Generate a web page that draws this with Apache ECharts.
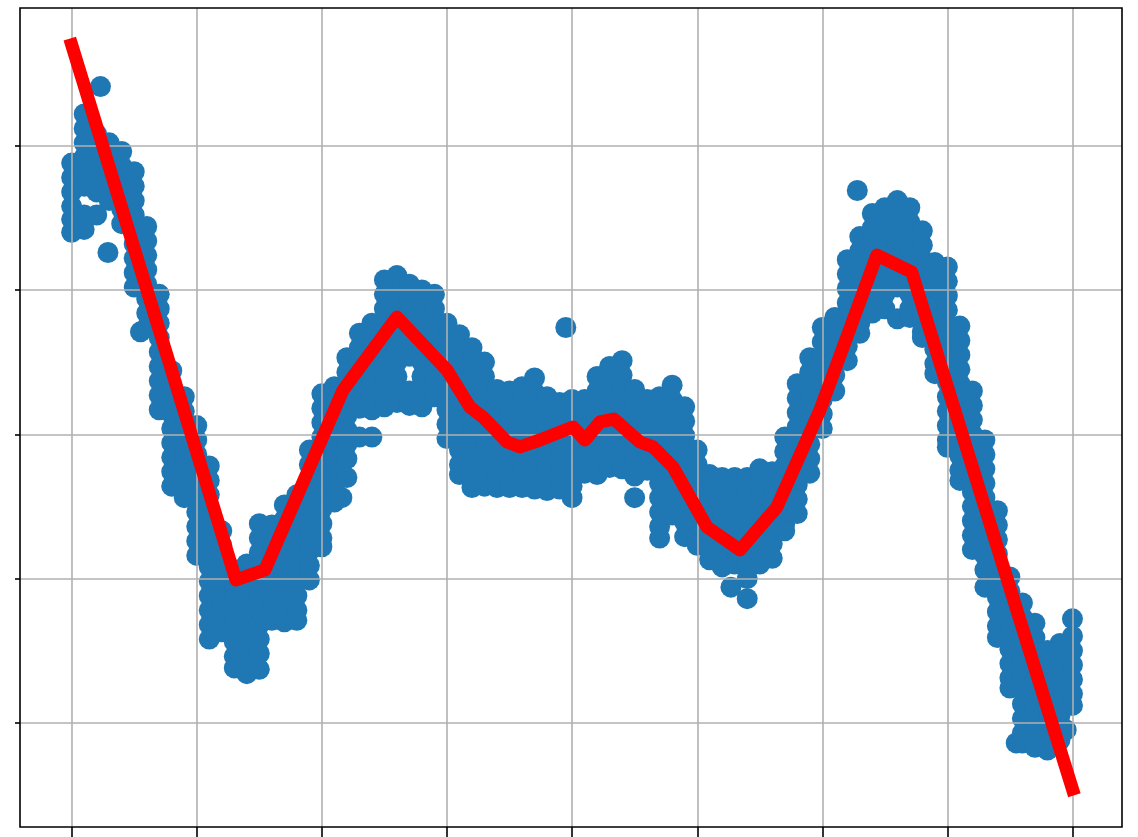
<!DOCTYPE html>
<html>
<head>
<meta charset="utf-8">
<script src="https://cdn.jsdelivr.net/npm/echarts@6/dist/echarts.min.js"></script>
<style>
html,body{margin:0;padding:0;background:#fff;}
#c{width:1138px;height:837px;}
</style>
</head>
<body>
<div id="c"></div>
<script>
// Tick positions (labels are not shown in the reference)
const xTicks = [0, 1, 2, 3, 4, 5, 6, 7, 8];
const yTicks = [-2, -1, 0, 1, 2];

// Red fitted line
const lineX = [0, 1.313, 1.545, 2.169, 2.600, 3.000, 3.184, 3.288, 3.480, 3.584, 3.743, 4.007, 4.103, 4.223, 4.335, 4.543, 4.647, 4.807, 5.078, 5.342, 5.638, 5.982, 6.437, 6.716, 8.0];
const lineY = [2.70, -1.010, -0.941, 0.306, 0.812, 0.445, 0.188, 0.119, -0.054, -0.088, -0.040, 0.050, -0.040, 0.085, 0.105, -0.054, -0.088, -0.227, -0.643, -0.802, -0.504, 0.168, 1.242, 1.124, -2.46];

// Scatter points, grouped by x: [x, y1, y2, ...]
const scatterLeft = [
  [0.0, 1.88, 1.78, 1.68, 1.58, 1.49, 1.40],
  [0.1, 2.22, 2.12, 2.02, 1.92, 1.82, 1.72, 1.52, 1.42],
  [0.2, 2.08, 1.98, 1.88, 1.78, 1.68, 1.52],
  [0.23, 2.41],
  [0.29, 1.26],
  [0.3, 2.02, 1.92, 1.82, 1.72, 1.62],
  [0.4, 1.96, 1.86, 1.76, 1.66, 1.56, 1.46],
  [0.5, 1.82, 1.72, 1.62, 1.52, 1.42, 1.32, 1.22, 1.12, 1.02],
  [0.55, 0.71],
  [0.6, 1.44, 1.34, 1.24, 1.14, 1.04, 0.94, 0.84, 0.74],
  [0.7, 0.97, 0.87, 0.77, 0.67, 0.57, 0.47, 0.37, 0.27, 0.17],
  [0.8, 0.44, 0.34, 0.24, 0.14, 0.04, -0.06, -0.16, -0.26, -0.36],
  [0.9, 0.26, 0.16, 0.06, -0.04, -0.14, -0.24, -0.34, -0.44],
  [1.0, 0.06, -0.04, -0.14, -0.24, -0.34, -0.44, -0.54, -0.64, -0.74, -0.84],
  [1.1, -0.22, -0.32, -0.42, -0.52, -0.62, -0.72, -0.82, -0.92, -1.02, -1.12, -1.22, -1.32, -1.42],
  [1.2, -0.67, -0.77, -0.87, -0.97, -1.07, -1.17, -1.27, -1.37],
  [1.3, -0.94, -1.04, -1.14, -1.24, -1.34, -1.44, -1.54, -1.62],
  [1.4, -0.90, -1.00, -1.10, -1.20, -1.30, -1.40, -1.50, -1.60, -1.66],
  [1.5, -0.62, -0.72, -0.82, -0.92, -1.02, -1.12, -1.22, -1.32, -1.42, -1.52, -1.63],
  [1.6, -0.63, -0.73, -0.83, -0.93, -1.03, -1.13, -1.23, -1.29],
  [1.7, -0.49, -0.59, -0.69, -0.79, -0.89, -0.99, -1.09, -1.19, -1.30],
  [1.8, -0.42, -0.52, -0.62, -0.72, -0.82, -0.92, -1.02, -1.12, -1.22, -1.29],
  [1.9, -0.11, -0.21, -0.31, -0.41, -0.51, -0.61, -0.71, -0.81, -0.91, -1.01]
];
const scatterMiddle = [
  [2.0, 0.28, 0.18, 0.08, -0.02, -0.12, -0.22, -0.32, -0.42, -0.52, -0.62, -0.72, -0.78],
  [2.1, 0.33, 0.23, 0.13, 0.03, -0.07, -0.17, -0.27, -0.37, -0.47],
  [2.16, -0.44],
  [2.2, 0.53, 0.43, 0.33, 0.23, 0.13, 0.03, -0.07, -0.17, -0.30],
  [2.3, 0.70, 0.60, 0.50, 0.40, 0.30, 0.18, -0.02],
  [2.4, 0.77, 0.67, 0.57, 0.47, 0.37, 0.27, 0.17, -0.02],
  [2.5, 1.07, 0.97, 0.87, 0.77, 0.67, 0.57, 0.47, 0.37, 0.27, 0.19],
  [2.6, 1.10, 1.00, 0.90, 0.80, 0.70, 0.60, 0.50, 0.40, 0.30, 0.22],
  [2.7, 1.04, 0.94, 0.84, 0.74, 0.64, 0.54, 0.30, 0.20],
  [2.8, 1.00, 0.90, 0.80, 0.70, 0.60, 0.50, 0.40, 0.30, 0.19],
  [2.9, 0.97, 0.87, 0.77, 0.67, 0.57, 0.47, 0.37, 0.26],
  [3.0, 0.77, 0.67, 0.57, 0.47, 0.37, 0.27, 0.17, 0.07, -0.03],
  [3.1, 0.69, 0.59, 0.49, 0.39, 0.29, 0.19, 0.09, -0.01, -0.11, -0.21, -0.28],
  [3.2, 0.60, 0.50, 0.40, 0.30, 0.20, 0.10, 0.00, -0.10, -0.20, -0.30, -0.37],
  [3.3, 0.50, 0.40, 0.30, 0.20, 0.10, 0.00, -0.10, -0.20, -0.30, -0.36],
  [3.4, 0.31, 0.21, 0.11, 0.01, -0.09, -0.19, -0.29, -0.37],
  [3.5, 0.30, 0.20, 0.10, 0.00, -0.10, -0.20, -0.30, -0.37],
  [3.6, 0.33, 0.23, 0.13, 0.03, -0.07, -0.17, -0.27, -0.37],
  [3.7, 0.39, 0.29, 0.19, 0.09, -0.01, -0.11, -0.21, -0.31, -0.38],
  [3.8, 0.26, 0.16, 0.06, -0.04, -0.14, -0.24, -0.34, -0.39],
  [3.9, 0.22, 0.12, 0.02, -0.08, -0.18, -0.28, -0.38],
  [3.95, 0.74],
  [4.0, 0.24, 0.14, 0.04, -0.06, -0.16, -0.26, -0.36, -0.44],
  [4.1, 0.24, 0.14, 0.04, -0.06, -0.16, -0.27],
  [4.2, 0.40, 0.30, 0.20, 0.10, 0.00, -0.10, -0.20, -0.28],
  [4.3, 0.47, 0.37, 0.27, 0.17, 0.07, -0.03, -0.13, -0.23],
  [4.4, 0.51, 0.41, 0.31, 0.21, 0.11, 0.01, -0.09, -0.19, -0.24],
  [4.5, 0.31, 0.21, 0.11, 0.01, -0.09, -0.19, -0.29, -0.44],
  [4.6, 0.24, 0.14, 0.04, -0.06, -0.16, -0.25],
  [4.7, 0.26, 0.16, 0.06, -0.04, -0.14, -0.24, -0.34, -0.44, -0.54, -0.64, -0.72],
  [4.8, 0.34, 0.24, 0.14, 0.04, -0.06, -0.16, -0.26, -0.36, -0.46, -0.56],
  [4.9, 0.19, 0.09, -0.01, -0.11, -0.21, -0.31, -0.41, -0.51, -0.61, -0.71]
];
const scatterRight = [
  [5.0, -0.11, -0.21, -0.31, -0.41, -0.51, -0.61, -0.71, -0.77],
  [5.1, -0.28, -0.38, -0.48, -0.58, -0.68, -0.78, -0.87],
  [5.2, -0.30, -0.40, -0.50, -0.60, -0.70, -0.80, -0.92],
  [5.27, -1.06],
  [5.3, -0.30, -0.40, -0.50, -0.60, -0.70, -0.80, -0.90],
  [5.4, -0.30, -0.40, -0.50, -0.60, -0.70, -0.80, -0.90, -1.00, -1.14],
  [5.5, -0.24, -0.34, -0.44, -0.54, -0.64, -0.74, -0.84, -0.90],
  [5.6, -0.26, -0.36, -0.46, -0.56, -0.66, -0.76, -0.86],
  [5.7, -0.02, -0.12, -0.22, -0.32, -0.42, -0.52, -0.62, -0.67],
  [5.8, 0.35, 0.25, 0.15, 0.05, -0.05, -0.15, -0.25, -0.35, -0.45, -0.55],
  [5.9, 0.53, 0.43, 0.33, 0.23, 0.13, 0.03, -0.07, -0.17, -0.27],
  [6.0, 0.74, 0.64, 0.54, 0.44, 0.34, 0.24, 0.14, 0.04],
  [6.1, 0.81, 0.71, 0.61, 0.51, 0.41, 0.30],
  [6.2, 1.21, 1.11, 1.01, 0.91, 0.81, 0.71, 0.61, 0.51],
  [6.28, 1.69],
  [6.3, 1.37, 1.27, 1.17, 1.07, 0.97, 0.87, 0.77, 0.70],
  [6.4, 1.53, 1.43, 1.33, 1.23, 1.13, 1.03, 0.93, 0.84],
  [6.5, 1.57, 1.47, 1.37, 1.27, 1.17, 1.07, 0.97, 0.87],
  [6.6, 1.62, 1.52, 1.42, 1.32, 1.22, 1.12, 1.02, 0.80],
  [6.7, 1.57, 1.47, 1.37, 1.27, 1.17, 1.07, 0.97, 0.87, 0.81],
  [6.8, 1.41, 1.31, 1.21, 1.11, 1.01, 0.91, 0.81, 0.71, 0.67],
  [6.9, 1.19, 1.09, 0.99, 0.89, 0.79, 0.69, 0.59, 0.49, 0.42],
  [7.0, 1.16, 1.06, 0.96, 0.86, 0.76, 0.66, 0.56, 0.46, 0.36, 0.26, 0.16, 0.06, -0.04, -0.09],
  [7.1, 0.75, 0.65, 0.55, 0.45, 0.35, 0.25, 0.15, 0.05, -0.05, -0.15, -0.25, -0.32],
  [7.2, 0.30, 0.20, 0.10, 0.00, -0.10, -0.20, -0.30, -0.40, -0.50, -0.60, -0.70, -0.80],
  [7.3, -0.04, -0.14, -0.24, -0.34, -0.44, -0.54, -0.64, -0.74, -0.84, -0.94, -1.06],
  [7.4, -0.53, -0.63, -0.73, -0.83, -0.93, -1.03, -1.13, -1.23, -1.33, -1.41],
  [7.5, -0.99, -1.09, -1.19, -1.29, -1.39, -1.49, -1.59, -1.69, -1.76],
  [7.55, -2.14],
  [7.6, -1.17, -1.27, -1.37, -1.47, -1.57, -1.67, -1.77, -1.87, -1.97, -2.07, -2.14],
  [7.7, -1.31, -1.41, -1.51, -1.61, -1.71, -1.81, -1.91, -2.01, -2.11, -2.17],
  [7.8, -1.50, -1.60, -1.70, -1.80, -1.90, -2.00, -2.10, -2.19],
  [7.9, -1.45, -1.55, -1.65, -1.75, -1.85, -1.95, -2.05, -2.12],
  [7.95, -2.05],
  [8.0, -1.28, -1.40, -1.50, -1.60, -1.70, -1.80, -1.88]
];

const scatterData = [];
[scatterLeft, scatterMiddle, scatterRight].forEach(group => {
  group.forEach(col => {
    for (let i = 1; i < col.length; i++) scatterData.push([col[0], col[i]]);
  });
});
const lineData = lineX.map((x, i) => [x, lineY[i]]);

const chart = echarts.init(document.getElementById('c'));
const gridColor = '#b0b0b0';
chart.setOption({
  animation: false,
  backgroundColor: '#ffffff',
  grid: [
    { left: 20, right: 16, top: 8, bottom: 10, show: true, borderColor: '#000', borderWidth: 1.6, backgroundColor: 'transparent', z: 10 },
    { left: 71.7, right: 65.3, top: 8, bottom: 10 },
    { left: 20, right: 16, top: 145.8, bottom: 114.3 }
  ],
  xAxis: [
    { gridIndex: 0, type: 'value', min: -0.413, max: 8.396, show: false },
    { gridIndex: 1, type: 'value', min: xTicks[0], max: xTicks[xTicks.length - 1], interval: 1, z: 3,
      axisLine: { show: false },
      axisTick: { show: true, inside: false, length: 10, lineStyle: { color: '#000', width: 1.6 } },
      axisLabel: { show: false },
      splitLine: { show: true, lineStyle: { color: gridColor, width: 1.6 } } },
    { gridIndex: 2, type: 'value', min: 0, max: 1, show: false }
  ],
  yAxis: [
    { gridIndex: 0, type: 'value', min: -2.723, max: 2.955, show: false },
    { gridIndex: 1, type: 'value', min: 0, max: 1, show: false },
    { gridIndex: 2, type: 'value', min: yTicks[0], max: yTicks[yTicks.length - 1], interval: 1, z: 3,
      axisLine: { show: false },
      axisTick: { show: true, inside: false, length: 5, lineStyle: { color: '#000', width: 1.6 } },
      axisLabel: { show: false },
      splitLine: { show: true, lineStyle: { color: gridColor, width: 1.6 } } }
  ],
  series: [
    { type: 'scatter', xAxisIndex: 0, yAxisIndex: 0, data: scatterData, symbolSize: 21,
      itemStyle: { color: '#1f77b4', opacity: 1 }, z: 1, silent: true },
    { type: 'line', xAxisIndex: 0, yAxisIndex: 0, data: lineData, showSymbol: false, symbol: 'none',
      lineStyle: { color: '#ff0000', width: 13, cap: 'square', join: 'round' }, z: 5, silent: true }
  ]
});
</script>
</body>
</html>
